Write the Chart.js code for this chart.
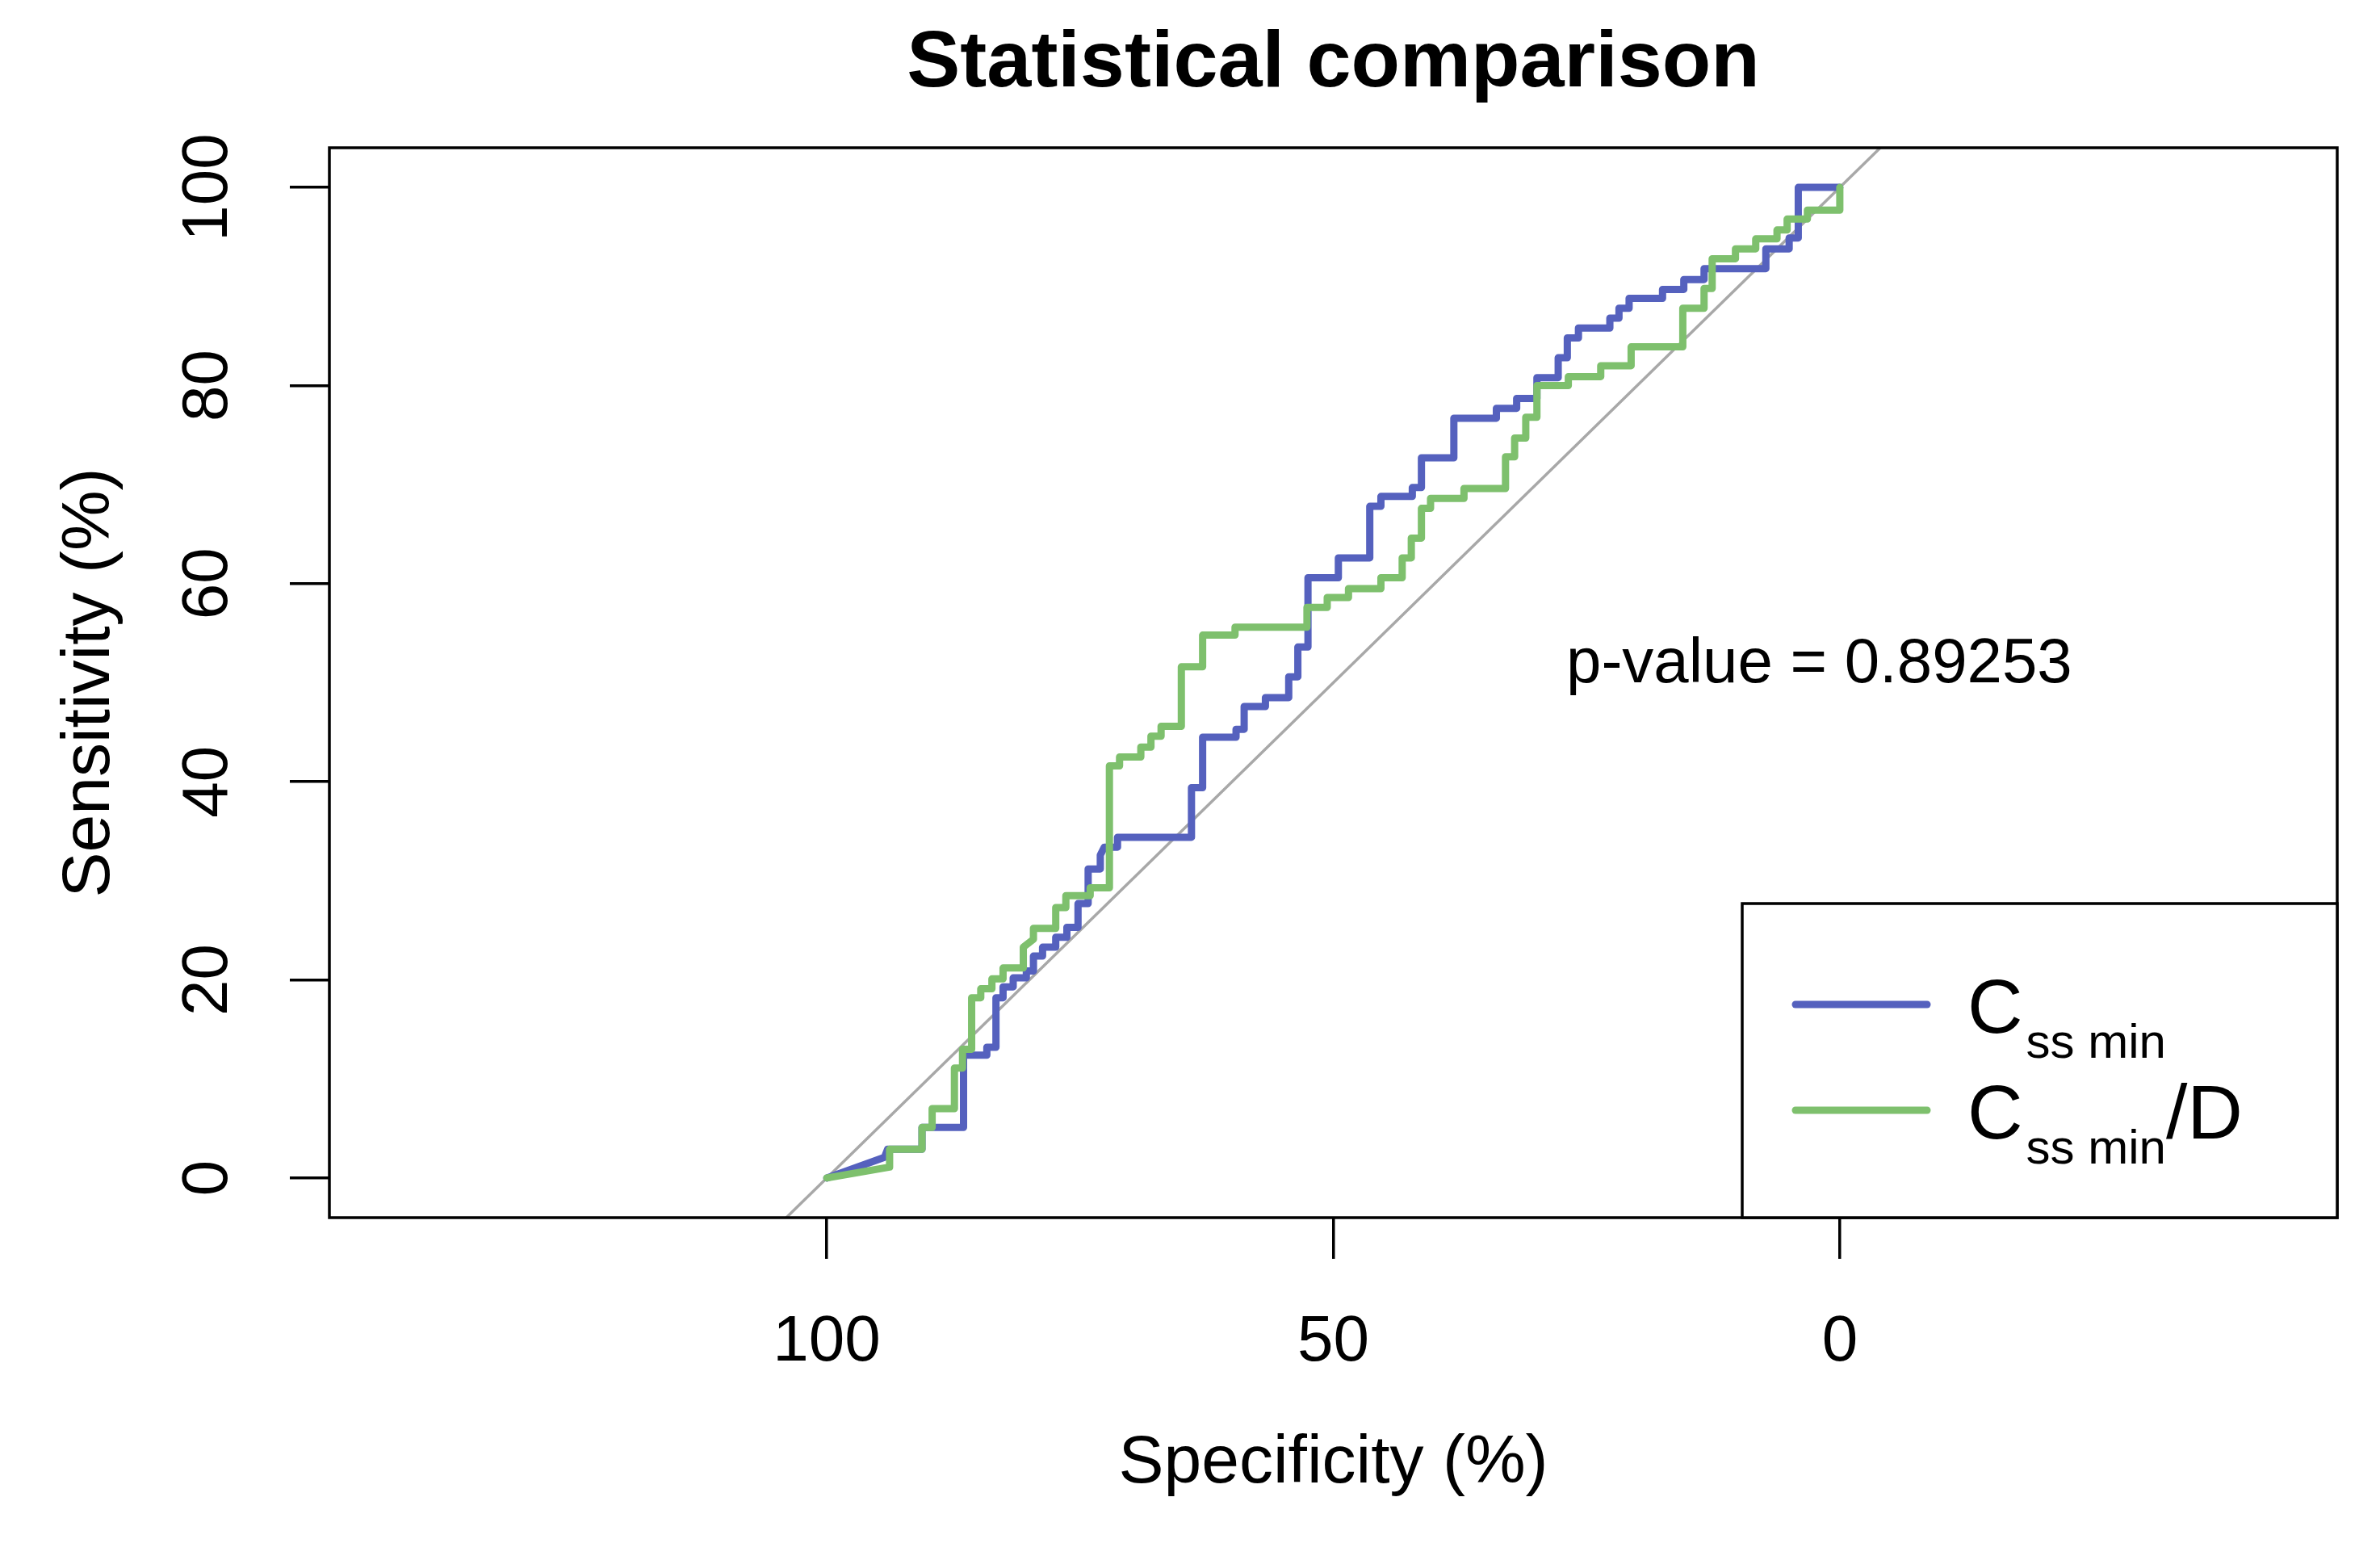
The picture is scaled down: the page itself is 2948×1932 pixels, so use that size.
<!DOCTYPE html>
<html>
<head>
<meta charset="utf-8">
<script src="https://cdn.jsdelivr.net/npm/chart.js@4.4.1/dist/chart.umd.min.js"></script>
<style>
  html, body { margin: 0; padding: 0; background: #fff; }
  canvas { display: block; }
</style>
</head>
<body>
<canvas id="roc" width="2948" height="1932" style="width:2948px;height:1932px"></canvas>
<script>
// axis ticks (specificity runs 100 -> 0)
const xTicks = [100, 50, 0];
const yTicks = [0, 20, 40, 60, 80, 100];

// ROC vertices [specificity %, sensitivity %]
const cssMin = [
  [100, 0], [94.3, 2.1], [94.0, 2.9], [90.6, 2.9], [90.6, 5.1], [86.5, 5.1], [86.5, 12.4],
  [84.2, 12.4], [84.2, 13.2], [83.3, 13.2], [83.3, 18.2], [82.6, 18.2], [82.6, 19.3],
  [81.6, 19.3], [81.6, 20.2], [80.3, 20.2], [80.3, 20.9], [79.6, 20.9], [79.6, 22.4],
  [78.7, 22.4], [78.7, 23.3], [77.4, 23.3], [77.4, 24.3], [76.3, 24.3], [76.3, 25.3],
  [75.2, 25.3], [75.2, 27.7], [74.2, 27.7], [74.2, 31.2], [73.0, 31.2], [73.0, 32.6],
  [72.6, 33.4], [71.3, 33.4], [71.3, 34.4], [64.0, 34.4], [64.0, 39.4], [62.9, 39.4],
  [62.9, 44.5], [59.6, 44.5], [59.6, 45.3], [58.8, 45.3], [58.8, 47.6], [56.7, 47.6],
  [56.7, 48.5], [54.4, 48.5], [54.4, 50.6], [53.5, 50.6], [53.5, 53.6], [52.5, 53.6],
  [52.5, 60.6], [49.5, 60.6], [49.5, 62.6], [46.4, 62.6], [46.4, 67.8], [45.3, 67.8],
  [45.3, 68.8], [42.2, 68.8], [42.2, 69.7], [41.3, 69.7], [41.3, 72.7], [38.1, 72.7],
  [38.1, 76.7], [33.9, 76.7], [33.9, 77.7], [31.9, 77.7], [31.9, 78.7], [29.9, 78.7],
  [29.9, 80.8], [27.8, 80.8], [27.8, 82.8], [26.9, 82.8], [26.9, 84.8], [25.8, 84.8],
  [25.8, 85.8], [22.7, 85.8], [22.7, 86.8], [21.8, 86.8], [21.8, 87.8], [20.8, 87.8],
  [20.8, 88.8], [17.5, 88.8], [17.5, 89.7], [15.4, 89.7], [15.4, 90.7], [13.4, 90.7],
  [13.4, 91.8], [7.3, 91.8], [7.3, 93.8], [5.0, 93.8], [5.0, 94.9], [4.1, 94.9],
  [4.1, 100], [0, 100]
];

const cssMinD = [
  [100, 0], [93.8, 1.1], [93.8, 2.9], [90.6, 2.9], [90.6, 5.1], [89.6, 5.1], [89.6, 7.0],
  [87.4, 7.0], [87.4, 11.1], [86.6, 11.1], [86.6, 13.0], [85.7, 13.0], [85.7, 18.2],
  [84.8, 18.2], [84.8, 19.1], [83.7, 19.1], [83.7, 20.1], [82.6, 20.1], [82.6, 21.2],
  [80.6, 21.2], [80.6, 23.3], [79.6, 24.1], [79.6, 25.2], [77.4, 25.2], [77.4, 27.3],
  [76.4, 27.3], [76.4, 28.5], [74.0, 28.5], [74.0, 29.3], [72.1, 29.3], [72.1, 41.6],
  [71.1, 41.6], [71.1, 42.5], [69.0, 42.5], [69.0, 43.5], [68.0, 43.5], [68.0, 44.6],
  [67.0, 44.6], [67.0, 45.6], [65.0, 45.6], [65.0, 51.6], [62.9, 51.6], [62.9, 54.8],
  [59.7, 54.8], [59.7, 55.6], [52.6, 55.6], [52.6, 57.6], [50.6, 57.6], [50.6, 58.6],
  [48.5, 58.6], [48.5, 59.5], [45.3, 59.5], [45.3, 60.6], [43.2, 60.6], [43.2, 62.6],
  [42.3, 62.6], [42.3, 64.6], [41.3, 64.6], [41.3, 67.6], [40.4, 67.6], [40.4, 68.6],
  [37.1, 68.6], [37.1, 69.6], [33.0, 69.6], [33.0, 72.8], [32.1, 72.8], [32.1, 74.7],
  [31.0, 74.7], [31.0, 76.8], [29.9, 76.8], [29.9, 80.0], [26.8, 80.0], [26.8, 80.9],
  [23.6, 80.9], [23.6, 82.0], [20.6, 82.0], [20.6, 83.9], [15.5, 83.9], [15.5, 87.8],
  [13.4, 87.8], [13.4, 89.8], [12.6, 89.8], [12.6, 92.8], [10.3, 92.8], [10.3, 93.8],
  [8.3, 93.8], [8.3, 94.8], [6.2, 94.8], [6.2, 95.7], [5.2, 95.7], [5.2, 96.8],
  [3.2, 96.8], [3.2, 97.7], [0, 97.7], [0, 100]
];

// chance line, clipped to the plot box
const chanceLine = [[104, -4], [-4, 104]];

const legendMain = ['C', 'C'];
const legendSub = ['ss min', 'ss min'];
const legendTail = ['', '/D'];
const pValueText = 'p-value = 0.89253';

const BLUE = '#5561be';
const GREEN = '#7ec06d';
const GREY = '#a8a8a8';
const FONT = '"Liberation Sans", Arial, Helvetica, sans-serif';

Chart.defaults.font.family = FONT;
Chart.defaults.color = '#000';

const toXY = pts => pts.map(([x, y]) => ({ x, y }));

// box round the plot, legend with subscripts, p-value label
const rocDecor = {
  id: 'rocDecor',
  afterDatasetsDraw(chart) {
    const { ctx, chartArea: a } = chart;
    ctx.save();
    ctx.strokeStyle = '#000';
    ctx.lineWidth = 3.5;
    ctx.strokeRect(a.left, a.top, a.right - a.left, a.bottom - a.top);

    // p-value
    ctx.fillStyle = '#000';
    ctx.font = `78px ${FONT}`;
    ctx.textAlign = 'left';
    ctx.textBaseline = 'alphabetic';
    ctx.fillText(pValueText, 1940, 845);

    // legend
    const bw = 737, bh = 389;
    const bx = a.right - bw, by = a.bottom - bh;
    ctx.fillStyle = '#fff';
    ctx.fillRect(bx, by, bw, bh);
    ctx.strokeRect(bx, by, bw, bh);
    const colors = [BLUE, GREEN];
    legendMain.forEach((m, i) => {
      const ly = by + 125 + i * 131;
      ctx.strokeStyle = colors[i];
      ctx.lineWidth = 9;
      ctx.lineCap = 'round';
      ctx.beginPath();
      ctx.moveTo(bx + 66, ly);
      ctx.lineTo(bx + 229, ly);
      ctx.stroke();

      ctx.fillStyle = '#000';
      let tx = bx + 279;
      ctx.font = `95px ${FONT}`;
      ctx.fillText(m, tx, ly + 35);
      tx += ctx.measureText(m).width + 4;
      ctx.font = `60px ${FONT}`;
      ctx.fillText(legendSub[i], tx, ly + 66);
      tx += ctx.measureText(legendSub[i]).width;
      ctx.font = `95px ${FONT}`;
      ctx.fillText(legendTail[i], tx, ly + 35);
    });
    ctx.restore();
  }
};

new Chart(document.getElementById('roc'), {
  type: 'line',
  data: {
    datasets: [
      { label: 'Css min/D', data: toXY(cssMinD), borderColor: GREEN, borderWidth: 9, order: 0 },
      { label: 'Css min', data: toXY(cssMin), borderColor: BLUE, borderWidth: 9, order: 1 },
      { label: 'chance', data: toXY(chanceLine), borderColor: GREY, borderWidth: 3.5, order: 2 }
    ]
  },
  options: {
    responsive: false,
    animation: false,
    devicePixelRatio: 1,
    layout: { padding: { top: 0, right: 53, bottom: 0, left: 0 } },
    elements: {
      point: { radius: 0, hoverRadius: 0 },
      line: { tension: 0, fill: false, borderCapStyle: 'round', borderJoinStyle: 'round' }
    },
    plugins: {
      legend: { display: false },
      tooltip: { enabled: false },
      title: {
        display: true,
        text: 'Statistical comparison',
        fullSize: false,
        color: '#000',
        font: { size: 99, weight: 'bold' },
        padding: { top: 20.6, bottom: 43.6 }
      }
    },
    scales: {
      x: {
        type: 'linear',
        reverse: true,
        min: -49.1,
        max: 149.1,
        afterBuildTicks: s => { s.ticks = xTicks.map(v => ({ value: v })); },
        afterFit: s => { s.height = 424; },
        border: { display: false },
        grid: { drawOnChartArea: false, drawTicks: true, tickLength: 51, color: '#000', lineWidth: 3.5 },
        ticks: { padding: 56, color: '#000', font: { size: 80 }, maxRotation: 0, autoSkip: false },
        title: { display: true, text: 'Specificity (%)', color: '#000', font: { size: 84 }, padding: { top: 0, bottom: 68.6 } }
      },
      y: {
        type: 'linear',
        min: -4,
        max: 104,
        afterBuildTicks: s => { s.ticks = yTicks.map(v => ({ value: v })); },
        afterFit: s => { s.width = 408; },
        border: { display: false },
        grid: { drawOnChartArea: false, drawTicks: true, tickLength: 49, color: '#000', lineWidth: 3.5 },
        ticks: { padding: 33, color: '#000', font: { size: 80 }, minRotation: 90, maxRotation: 90, crossAlign: 'center', autoSkip: false },
        title: { display: true, text: 'Sensitivity (%)', color: '#000', font: { size: 84 }, padding: { top: 61.6, bottom: 0 } }
      }
    }
  },
  plugins: [rocDecor]
});
</script>
</body>
</html>
